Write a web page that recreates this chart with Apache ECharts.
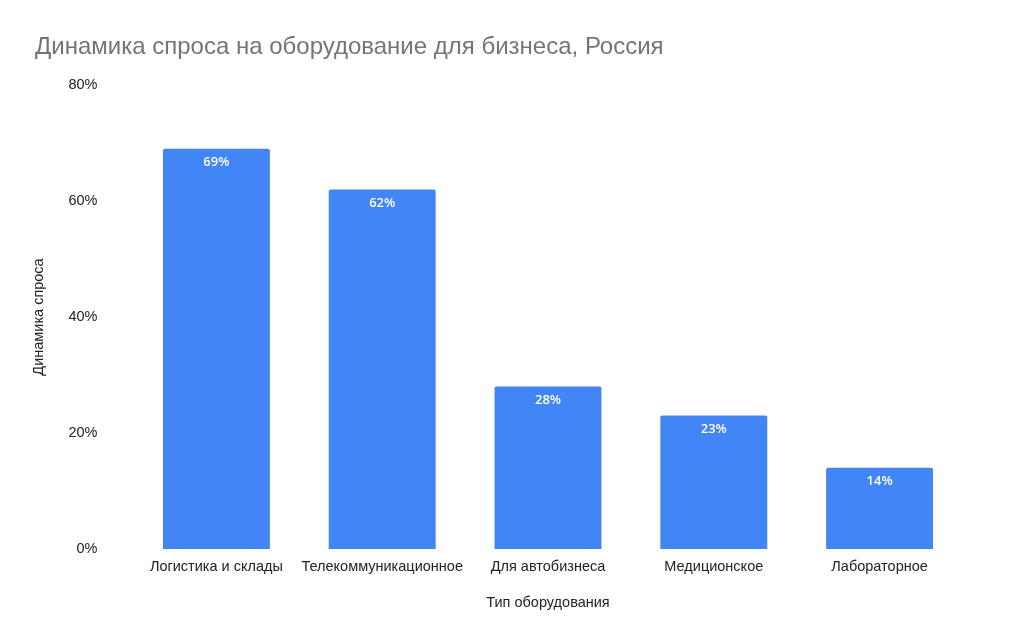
<!DOCTYPE html>
<html><head><meta charset="utf-8">
<script src="https://cdn.jsdelivr.net/npm/echarts@6/dist/echarts.min.js"></script>
<style>html,body{margin:0;padding:0;background:#fff}#c{width:1024px;height:640px}</style>
</head><body><div id="c"></div>
<script>
const categories = ['Логистика и склады','Телекоммуникационное','Для автобизнеса','Медиционское','Лабораторное'];
const values = [69, 62, 28, 23, 14];
const yTicks = [0, 20, 40, 60, 80];

const chart = echarts.init(document.getElementById('c'));
chart.setOption({
  animation: false,
  title: {
    text: 'Динамика спроса на оборудование для бизнеса, Россия',
    left: 30, top: 30,
    textStyle: {fontFamily: 'Liberation Sans', fontSize: 24, fontWeight: 'normal', color: '#757575'}
  },
  grid: {left: 133.5, right: 61.5, top: 85, bottom: 91},
  xAxis: {
    type: 'category', data: categories,
    name: 'Тип оборудования', nameLocation: 'middle', nameGap: 46,
    nameTextStyle: {fontFamily: 'Liberation Sans', fontSize: 14.5, color: '#222'},
    axisLine: {show: false}, axisTick: {show: false},
    axisLabel: {fontFamily: 'Liberation Sans', fontSize: 14.5, color: '#222', margin: 10, interval: 0}
  },
  yAxis: {
    type: 'value', min: yTicks[0], max: yTicks[yTicks.length-1], interval: 20,
    name: 'Динамика спроса', nameLocation: 'middle', nameGap: 87,
    nameTextStyle: {fontFamily: 'Liberation Sans', fontSize: 14.5, color: '#222'},
    axisLine: {show: false}, axisTick: {show: false}, splitLine: {show: false},
    axisLabel: {fontFamily: 'Liberation Sans', fontSize: 14.5, color: '#222', margin: 36, formatter: '{value}%'}
  },
  series: [{
    type: 'bar', data: values, barWidth: '64.5%',
    itemStyle: {color: '#4285F4', borderRadius: [2,2,0,0]},
    label: {show: true, position: 'insideTop', distance: 7, formatter: '{c}%',
      fontFamily: 'Open Sans', fontSize: 13, fontWeight: 600, color: '#fff'}
  }]
});
</script></body></html>
